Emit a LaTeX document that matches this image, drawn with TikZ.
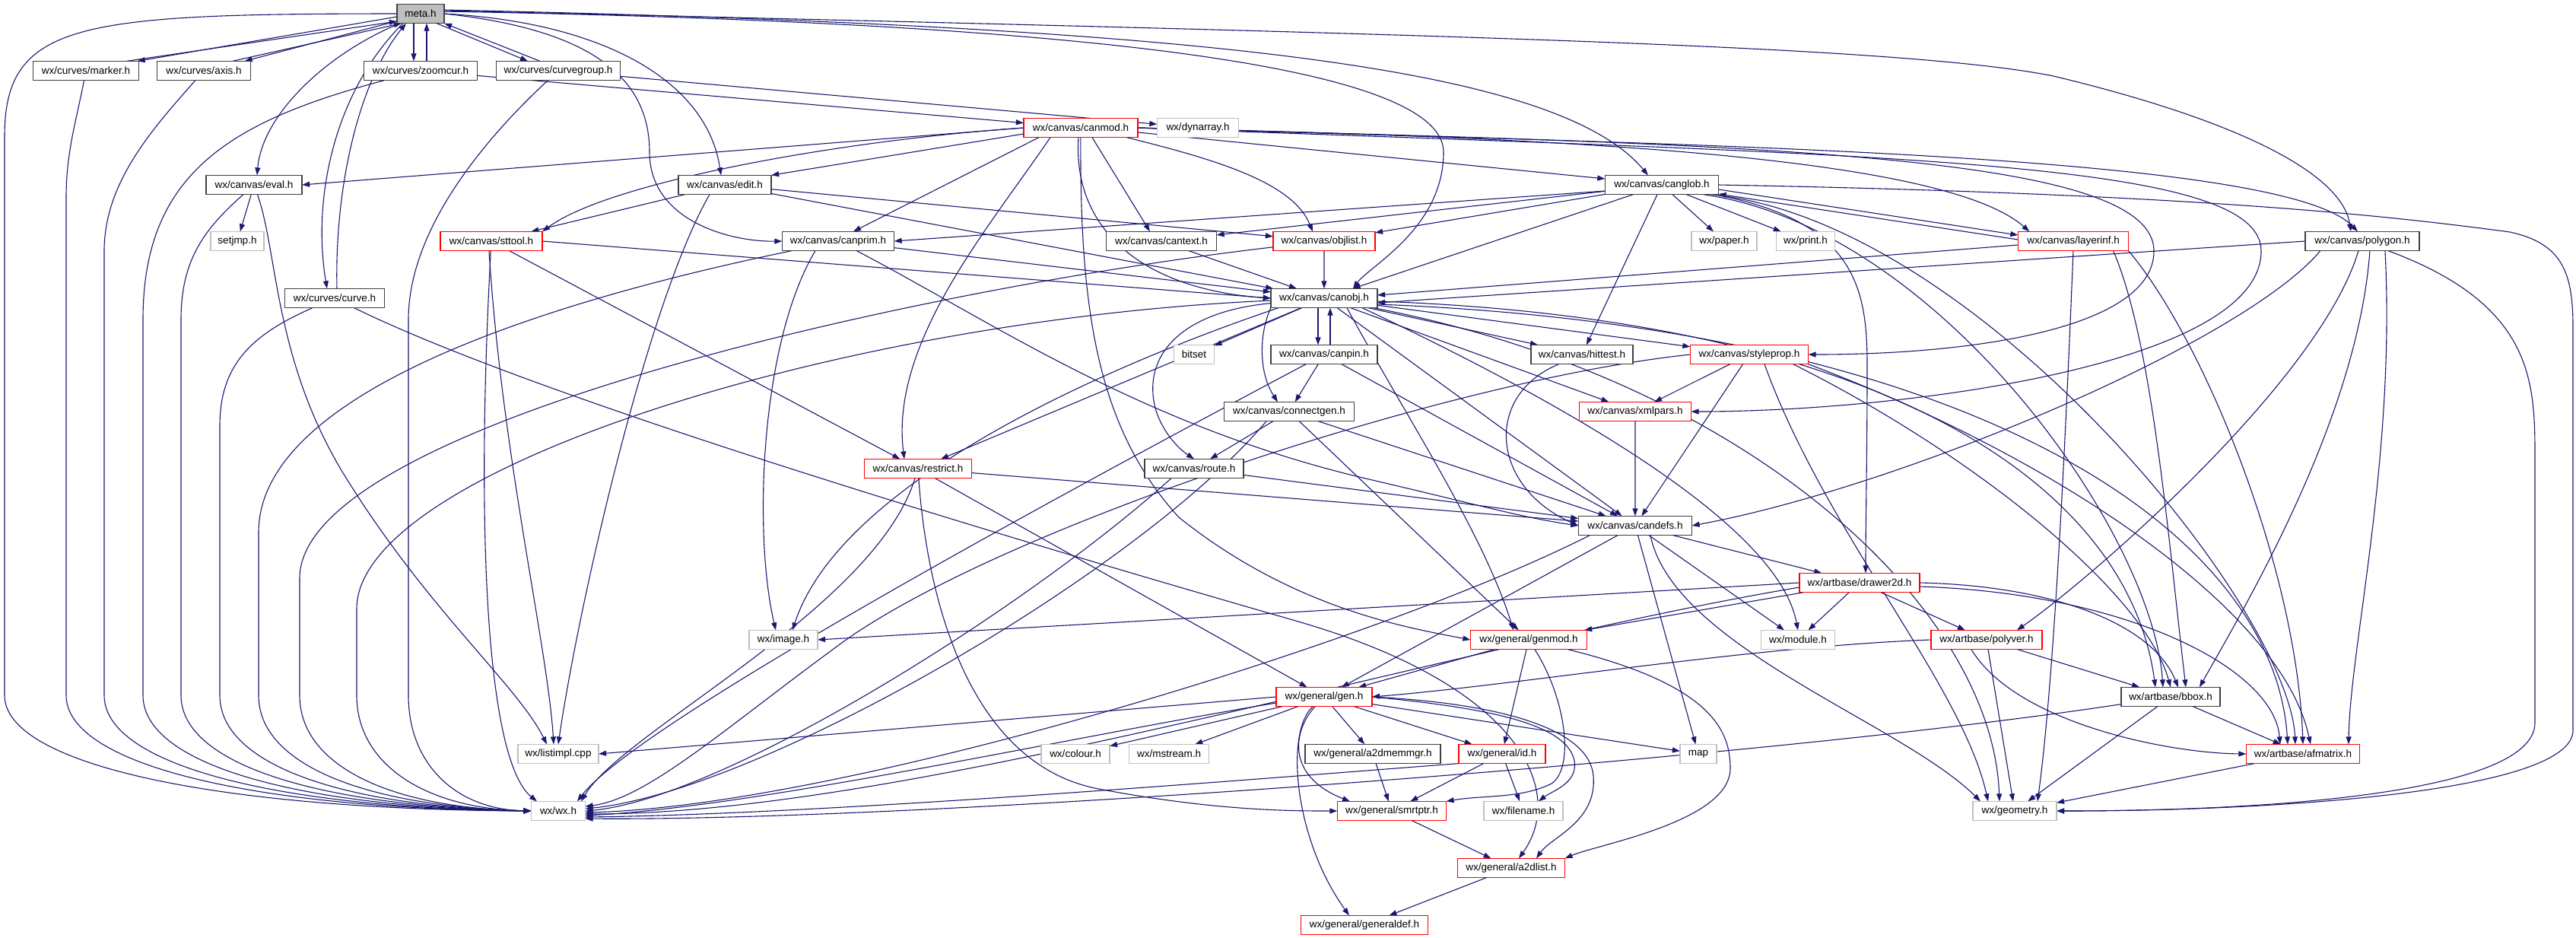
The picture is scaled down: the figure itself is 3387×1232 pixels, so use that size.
\documentclass[tikz,border=0pt]{standalone}
\usepackage{fontspec}
\setmainfont{Liberation Sans}
\usetikzlibrary{arrows.meta, backgrounds, calc}

\definecolor{edgeblue}{HTML}{191970}
\definecolor{docgray}{HTML}{404040}
\definecolor{undocgray}{HTML}{BFBFBF}

\begin{document}
\begin{tikzpicture}[
            > = {Triangle[length=2pt,width=1.4pt]}, % arrow head style
            x = 1pt, y = -1pt, % pixel grid, y goes down
            scale = 0.2,
            every edge/.style = {draw = edgeblue, line width = 0.22pt}, % connector style
            semithick
        ]

        \tikzstyle{filebox}=[
        rectangle,
        transform shape,
        fill = white,
        inner sep = 0pt,
        minimum height = 25pt,
        font = \fontsize{13.5}{16}\selectfont
        ]
        \tikzstyle{docnode}=[filebox, draw = docgray, line width = 0.34pt]
        \tikzstyle{truncnode}=[filebox, draw = red, line width = 0.27pt]
        \tikzstyle{extnode}=[filebox, draw = undocgray, line width = 0.27pt]
        \tikzstyle{inc}=[->, draw = edgeblue, line width = 0.22pt]

        \useasboundingbox (0,0) rectangle (3387,1232);

        % rows of the include graph
        \node[docnode, fill = undocgray, minimum width = 62pt] (meta) at (553,18) {meta.h};

        \node[docnode, minimum width = 139pt] (marker) at (113,93) {wx/curves/marker.h};
        \node[docnode, minimum width = 123pt] (axis) at (268,93) {wx/curves/axis.h};
        \node[docnode, minimum width = 149pt] (zoomcur) at (553,93) {wx/curves/zoomcur.h};
        \node[docnode, minimum width = 163pt] (curvegroup) at (734,93) {wx/curves/curvegroup.h};

        \node[truncnode, minimum width = 150pt] (canmod) at (1421,168) {wx/canvas/canmod.h};
        \node[extnode, minimum width = 107pt] (dynarray) at (1575,168) {wx/dynarray.h};

        \node[docnode, minimum width = 126pt] (eval) at (334,243) {wx/canvas/eval.h};
        \node[docnode, minimum width = 122pt] (edit) at (953,243) {wx/canvas/edit.h};
        \node[docnode, minimum width = 149pt] (canglob) at (2185,243) {wx/canvas/canglob.h};

        \node[extnode, minimum width = 70pt] (setjmp) at (312,317) {setjmp.h};
        \node[truncnode, minimum width = 134pt] (sttool) at (646,317) {wx/canvas/sttool.h};
        \node[docnode, minimum width = 147pt] (canprim) at (1102,317) {wx/canvas/canprim.h};
        \node[docnode, minimum width = 145pt] (cantext) at (1527,317) {wx/canvas/cantext.h};
        \node[truncnode, minimum width = 134pt] (objlist) at (1741,317) {wx/canvas/objlist.h};
        \node[extnode, minimum width = 86pt] (paper) at (2267,317) {wx/paper.h};
        \node[extnode, minimum width = 77pt] (print) at (2374,317) {wx/print.h};
        \node[truncnode, minimum width = 145pt] (layerinf) at (2726,317) {wx/canvas/layerinf.h};
        \node[docnode, minimum width = 150pt] (polygon) at (3106,317) {wx/canvas/polygon.h};

        \node[docnode, minimum width = 131pt] (curve) at (440,392) {wx/curves/curve.h};
        \node[docnode, minimum width = 140pt] (canobj) at (1741,392) {wx/canvas/canobj.h};

        \node[extnode, minimum width = 53pt] (bitset) at (1570,466) {bitset};
        \node[docnode, minimum width = 140pt] (canpin) at (1741,466) {wx/canvas/canpin.h};
        \node[docnode, minimum width = 134pt] (hittest) at (2080,466) {wx/canvas/hittest.h};
        \node[truncnode, minimum width = 155pt] (styleprop) at (2300,466) {wx/canvas/styleprop.h};

        \node[docnode, minimum width = 171pt] (connectgen) at (1695,541) {wx/canvas/connectgen.h};
        \node[truncnode, minimum width = 147pt] (xmlpars) at (2150,541) {wx/canvas/xmlpars.h};

        \node[truncnode, minimum width = 141pt] (restrict) at (1207,616) {wx/canvas/restrict.h};
        \node[docnode, minimum width = 130pt] (route) at (1570,616) {wx/canvas/route.h};

        \node[docnode, minimum width = 149pt] (candefs) at (2150,691) {wx/canvas/candefs.h};

        \node[truncnode, minimum width = 158pt] (drawer2d) at (2445,766) {wx/artbase/drawer2d.h};

        \node[extnode, minimum width = 90pt] (image) at (1030,841) {wx/image.h};
        \node[truncnode, minimum width = 153pt] (genmod) at (2010,841) {wx/general/genmod.h};
        \node[extnode, minimum width = 97pt] (module) at (2364,841) {wx/module.h};
        \node[truncnode, minimum width = 146pt] (polyver) at (2612,841) {wx/artbase/polyver.h};

        \node[truncnode, minimum width = 126pt] (gen) at (1741,916) {wx/general/gen.h};
        \node[docnode, minimum width = 130pt] (bbox) at (2854,916) {wx/artbase/bbox.h};

        \node[extnode, minimum width = 106pt] (listimpl) at (734,991) {wx/listimpl.cpp};
        \node[extnode, minimum width = 90pt] (colour) at (1414,991) {wx/colour.h};
        \node[extnode, minimum width = 105pt] (mstream) at (1537,991) {wx/mstream.h};
        \node[docnode, minimum width = 178pt] (a2dmemmgr) at (1805,991) {wx/general/a2dmemmgr.h};
        \node[truncnode, minimum width = 114pt] (id) at (1975,991) {wx/general/id.h};
        \node[extnode, minimum width = 48pt] (map) at (2233,991) {map};
        \node[truncnode, minimum width = 149pt] (afmatrix) at (3028,991) {wx/artbase/afmatrix.h};

        \node[extnode, minimum width = 71pt] (wx) at (734,1066) {wx/wx.h};
        \node[truncnode, minimum width = 143pt] (smrtptr) at (1830,1066) {wx/general/smrtptr.h};
        \node[extnode, minimum width = 104pt] (filename) at (2003,1066) {wx/filename.h};
        \node[extnode, minimum width = 110pt] (geometry) at (2649,1066) {wx/geometry.h};

        \node[truncnode, minimum width = 141pt] (a2dlist) at (1987,1141) {wx/general/a2dlist.h};
        \node[truncnode, minimum width = 167pt] (generaldef) at (1794,1216) {wx/general/generaldef.h};

        \begin{pgfonlayer}{background}
        % meta.h
        \draw[inc] (meta.west) .. controls (100,18) and (6,30) .. (6,180) -- (6,914) .. controls (6,1005) and (283,1064) .. (wx.west);
        \path[->] ($(meta.west)+(0,4)$) edge ($(marker.north east)+(-2,0)$);
        \path[->] ($(marker.north east)+(-16,0)$) edge ($(meta.west)+(0,10)$);
        \path[->] ($(meta.south west)+(0,-3)$) edge ($(axis.north east)+(-8,0)$);
        \path[->] ($(axis.north east)+(-24,0)$) edge ($(meta.south west)+(6,0)$);
        \path[->] ($(meta.south east)+(-10,0)$) edge ($(curvegroup.north)+(-40,0)$);
        \path[->] ($(curvegroup.north)+(-24,0)$) edge (meta.south east);
        \path[->] ($(meta.south)+(-9,0)$) edge ($(zoomcur.north)+(-9,0)$);
        \path[->] ($(zoomcur.north)+(8,0)$) edge ($(meta.south)+(8,0)$);
        \draw[inc] ($(meta.south west)+(4,0)$) .. controls (430,70) and (345,150) .. ($(eval.north)+(4,0)$);
        \draw[inc] ($(meta.south west)+(8,0)$) .. controls (440,120) and (410,260) .. ($(curve.north)+(-10,0)$);
        \draw[inc] ($(curve.north)+(3,0)$) .. controls (440,250) and (470,110) .. ($(meta.south west)+(12,0)$);
        \draw[inc] (meta.east) .. controls (800,30) and (930,110) .. ($(edit.north)+(-5,0)$);
        \draw[inc] (meta.east) .. controls (790,40) and (854,110) .. (854,200) .. controls (854,290) and (960,318) .. (canprim.west);
        \draw[inc] ($(meta.east)+(0,-3)$) .. controls (1450,30) and (1898,90) .. (1898,200) .. controls (1898,300) and (1800,350) .. ($(canobj.north)+(38,0)$);
        \draw[inc] ($(meta.east)+(0,-5)$) .. controls (1600,35) and (2050,90) .. ($(canglob.north)+(-18,0)$);
        \draw[inc] ($(meta.east)+(0,-4)$) .. controls (1900,45) and (2500,60) .. (2700,100) .. controls (2950,160) and (3080,230) .. ($(polygon.north)+(-15,0)$);

        % left lanes into wx/wx.h
        \draw[inc] (marker) .. controls (100,160) and (87,200) .. (87,260) -- (87,914) .. controls (87,1005) and (332,1063) .. (wx.west);
        \draw[inc] (axis) .. controls (200,170) and (137,240) .. (137,330) -- (137,914) .. controls (137,1005) and (362,1062) .. (wx.west);
        \draw[inc] (zoomcur) .. controls (300,160) and (188,230) .. (188,420) -- (188,914) .. controls (188,1005) and (392,1061) .. (wx.west);
        \draw[inc] (eval) .. controls (270,300) and (238,340) .. (238,420) -- (238,914) .. controls (238,1005) and (420,1060) .. (wx.west);
        \draw[inc] (curve) .. controls (330,440) and (289,480) .. (289,560) -- (289,914) .. controls (289,1005) and (450,1060) .. (wx.west);
        \draw[inc] (canprim) .. controls (700,400) and (340,520) .. (340,700) -- (340,914) .. controls (340,1005) and (480,1060) .. (wx.west);
        \draw[inc] (objlist) .. controls (1200,380) and (394,560) .. (394,760) -- (394,914) .. controls (394,1005) and (510,1062) .. (wx.west);
        \draw[inc] (canobj) .. controls (1100,420) and (469,620) .. (469,800) -- (469,914) .. controls (469,1005) and (560,1063) .. (wx.west);
        \draw[inc] (curvegroup) .. controls (640,180) and (537,300) .. (537,420) -- (537,914) .. controls (537,1005) and (600,1064) .. (wx.west);

        % curves
        \path[->] (zoomcur) edge (canmod);
        \path[->] (curvegroup) edge (dynarray);
        \draw[inc] (curve) .. controls (700,520) and (1300,700) .. (1700,815) .. controls (2000,900) and (2060,1040) .. ($(a2dlist.north)+(10,0)$);
        \path[->] (eval) edge (setjmp);
        \draw[inc] (eval) .. controls (365,330) and (360,470) .. (450,620) .. controls (560,800) and (680,900) .. ($(listimpl.north)+(-15,0)$);

        % canvas
        \path[->] (edit) edge (sttool) edge (objlist) edge (canobj);
        \draw[inc] ($(edit.south)+(-20,0)$) .. controls (850,400) and (760,800) .. (listimpl.north);
        \path[->] (sttool) edge (restrict);
        \draw[inc] ($(sttool.south)+(-3,0)$) .. controls (660,600) and (720,850) .. ($(listimpl.north)+(-6,0)$);
        \path[->] (sttool.east) edge (canobj.west);
        \draw[inc] (sttool) .. controls (625,700) and (640,1000) .. ($(wx.north)+(-28,0)$);

        \path[->] (canmod.west) edge (eval.east);
        \path[->] ($(canmod.west)+(0,8)$) edge (edit.north east);
        \path[->] ($(canmod.south)+(-55,0)$) edge ($(canprim.north)+(20,0)$);
        \path[->] ($(canmod.south)+(15,0)$) edge ($(cantext.north)+(-15,0)$);
        \path[->] ($(canmod.east)+(0,6)$) edge ($(canglob.west)+(0,-8)$);
        \draw[inc] (canmod.west) .. controls (1100,185) and (800,240) .. (sttool.north east);
        \draw[inc] ($(canmod.south east)+(-15,0)$) .. controls (1600,210) and (1700,240) .. ($(objlist.north)+(-15,0)$);
        \draw[inc] ($(canmod.south)+(-3,0)$) .. controls (1410,300) and (1500,380) .. (canobj.west);
        \draw[inc] ($(canmod.south)+(-40,0)$) .. controls (1300,300) and (1170,450) .. ($(restrict.north)+(-18,0)$);
        \draw[inc] (canmod.east) .. controls (2000,180) and (2550,200) .. ($(layerinf.north west)+(15,0)$);
        \draw[inc] (canmod) .. controls (1420,400) and (1440,560) .. (1550,680) .. controls (1700,800) and (1850,825) .. (genmod.west);
        \draw[inc] (canmod.east) .. controls (2200,190) and (3000,200) .. ($(polygon.north)+(-6,0)$);
        \draw[inc] (canmod.east) .. controls (2300,190) and (2832,200) .. (2832,330) .. controls (2832,430) and (2600,466) .. (styleprop.east);
        \draw[inc] (canmod.east) .. controls (2500,205) and (2973,210) .. (2973,330) .. controls (2973,480) and (2500,541) .. (xmlpars.east);

        \path[->] ($(canglob.west)+(0,8)$) edge (canprim.east);
        \path[->] (canglob) edge (cantext) edge (objlist) edge (canobj) edge (hittest) edge (paper) edge (print);
        \path[->] ($(canglob.east)+(0,6)$) edge ($(layerinf.west)+(0,-8)$);
        \path[->] ($(layerinf.west)+(0,-2)$) edge ($(canglob.east)+(0,12)$);
        \draw[inc] ($(canglob.south east)+(-20,0)$) .. controls (2550,300) and (2830,700) .. ($(bbox.north)+(-10,0)$);
        \draw[inc] ($(canglob.south east)+(-10,0)$) .. controls (2600,290) and (3010,800) .. ($(afmatrix.north)+(-10,0)$);
        \draw[inc] (canglob) .. controls (2440,290) and (2455,380) .. (2455,480) .. controls (2455,600) and (2453,690) .. ($(drawer2d.north)+(8,0)$);
        \draw[inc] (canglob.east) .. controls (2900,255) and (3150,285) .. (3300,305) .. controls (3370,320) and (3383,360) .. (3383,430) -- (3383,960) .. controls (3383,1040) and (3000,1066) .. (geometry.east);

        \path[->] ($(layerinf.west)+(0,5)$) edge ($(canobj.east)+(0,-4)$);
        \draw[inc] (layerinf.south) .. controls (2715,600) and (2700,900) .. ($(geometry.north)+(30,0)$);
        \draw[inc] ($(layerinf.south east)+(-20,0)$) .. controls (2830,450) and (2850,700) .. ($(bbox.north)+(20,0)$);
        \draw[inc] (layerinf.south east) .. controls (2900,450) and (3020,750) .. (afmatrix.north);

        \path[->] (polygon.west) edge ($(canobj.east)+(0,6)$);
        \draw[inc] ($(polygon.south west)+(20,0)$) .. controls (2950,450) and (2500,640) .. (candefs.east);
        \draw[inc] ($(polygon.south)+(-5,0)$) .. controls (3050,500) and (2750,760) .. ($(polyver.north)+(40,0)$);
        \draw[inc] ($(polygon.south)+(10,0)$) .. controls (3100,550) and (2950,800) .. ($(bbox.north)+(38,0)$);
        \draw[inc] ($(polygon.south)+(30,0)$) .. controls (3150,600) and (3090,850) .. ($(afmatrix.north)+(60,0)$);
        \draw[inc] (polygon) .. controls (3330,400) and (3333,500) .. (3333,600) -- (3333,950) .. controls (3333,1040) and (3000,1066) .. (geometry.east);

        \path[->] (canprim) edge (canobj);
        \draw[inc] ($(canprim.south)+(-30,0)$) .. controls (1000,450) and (990,700) .. ($(image.north)+(-10,0)$);
        \draw[inc] (canprim) .. controls (1300,420) and (1500,560) .. (1800,630) .. controls (1950,665) and (2000,680) .. (candefs.west);
        \path[->] (cantext) edge (canobj);
        \path[->] (objlist) edge (canobj);

        \path[->] (canobj) edge (bitset) edge (hittest) edge (styleprop) edge (xmlpars) edge (restrict) edge (candefs);
        \draw[inc] ($(canobj.south west)+(10,0)$) .. controls (1400,500) and (1100,650) .. ($(image.north)+(12,0)$);
        \draw[inc] ($(canobj.south)+(30,0)$) .. controls (1850,550) and (1950,700) .. ($(genmod.north)+(-20,0)$);
        \draw[inc] ($(canobj.east)+(0,4)$) .. controls (2500,420) and (2800,650) .. ($(bbox.north)+(-20,0)$);
        \draw[inc] ($(canobj.east)+(0,8)$) .. controls (2600,430) and (2990,700) .. ($(afmatrix.north)+(-20,0)$);
        \draw[inc] ($(canobj.south east)+(-5,0)$) .. controls (2300,500) and (2620,800) .. ($(geometry.north)+(-20,0)$);
        \draw[inc] ($(canobj.south east)+(-20,0)$) .. controls (2100,550) and (2340,700) .. (module.north);
        \draw[inc] (canobj.south west) .. controls (1655,440) and (1655,490) .. ($(connectgen.north)+(-15,0)$);
        \draw[inc] (canobj) .. controls (1550,410) and (1500,470) .. (1520,540) .. controls (1530,570) and (1550,590) .. (route.north);
        \path[->] ($(canobj.south)+(-8,0)$) edge ($(canpin.north)+(-8,0)$);
        \path[->] ($(canpin.north)+(8,0)$) edge ($(canobj.south)+(8,0)$);
        \path[->] (canpin) edge (connectgen) edge (candefs);
        \draw[inc] (canpin) .. controls (1300,700) and (830,960) .. ($(wx.north)+(25,0)$);
        \draw[inc] (hittest) .. controls (1950,520) and (1960,640) .. (candefs.west);

        \path[->] (styleprop) edge (xmlpars) edge (candefs);
        \draw[inc] ($(styleprop.south east)+(-20,0)$) .. controls (2600,600) and (2820,780) .. (bbox.north);
        \draw[inc] (styleprop.south east) .. controls (2700,600) and (3000,800) .. ($(afmatrix.north)+(10,0)$);
        \draw[inc] ($(styleprop.south)+(20,0)$) .. controls (2400,700) and (2580,900) .. ($(geometry.north)+(-35,0)$);
        \draw[inc] (styleprop.west) .. controls (1900,500) and (1300,700) .. (1100,850) .. controls (950,960) and (850,1050) .. ($(wx.east)+(0,-6)$);
        \path[->] (xmlpars) edge (candefs);
        \path[->] (connectgen) edge (route) edge (genmod) edge (candefs);
        \draw[inc] ($(connectgen.south)+(-30,0)$) .. controls (1500,750) and (1000,1040) .. ($(wx.east)+(0,-3)$);
        \path[->] (restrict) edge (candefs) edge (gen);
        \draw[inc] (restrict) .. controls (1150,800) and (820,960) .. ($(wx.north)+(30,0)$);
        \draw[inc] (restrict) .. controls (1220,800) and (1280,1010) .. (1450,1038) .. controls (1600,1066) and (1700,1066) .. (smrtptr.west);
        \path[->] (route) edge (candefs);
        \draw[inc] ($(route.south)+(-30,0)$) .. controls (1350,800) and (950,1050) .. (wx.east);

        % artbase and general
        \path[->] (candefs) edge (drawer2d) edge (gen) edge (module) edge (map);
        \draw[inc] ($(candefs.south)+(20,0)$) .. controls (2200,850) and (2500,950) .. ($(geometry.north)+(-45,0)$);
        \draw[inc] ($(candefs.south west)+(15,0)$) .. controls (1800,850) and (1100,1060) .. ($(wx.east)+(0,2)$);
        \path[->] (drawer2d.west) edge (image.east);
        \path[->] (drawer2d) edge (genmod) edge (module) edge (polyver);
        \draw[inc] (drawer2d.east) .. controls (2700,770) and (2830,820) .. ($(bbox.north)+(10,0)$);
        \draw[inc] ($(drawer2d.east)+(0,5)$) .. controls (2800,780) and (2990,880) .. ($(afmatrix.north)+(-30,0)$);
        \draw[inc] ($(drawer2d.west)+(0,6)$) .. controls (1900,850) and (1200,1070) .. ($(wx.east)+(0,4)$);
        \path[->] (genmod) edge (gen) edge (id);
        \draw[inc] (genmod) .. controls (2060,920) and (2070,1010) .. (2040,1030) .. controls (2000,1050) and (1950,1045) .. (smrtptr.north east);
        \draw[inc] (genmod) .. controls (2250,900) and (2275,960) .. (2275,1010) .. controls (2275,1080) and (2100,1110) .. (a2dlist.north east);
        \draw[inc] (polyver.west) .. controls (2300,850) and (2000,900) .. (gen.east);
        \path[->] (polyver) edge (bbox) edge (geometry);
        \draw[inc] ($(polyver.south)+(-20,0)$) .. controls (2650,950) and (2850,990) .. (afmatrix.west);

        \path[->] (gen.west) edge (listimpl.east);
        \draw[inc] ($(gen.west)+(0,8)$) .. controls (1400,970) and (1000,1060) .. ($(wx.east)+(0,6)$);
        \path[->] (gen) edge (colour) edge (mstream) edge (a2dmemmgr) edge (id) edge (map);
        \draw[inc] (gen) .. controls (1700,960) and (1690,1020) .. ($(smrtptr.north)+(-55,0)$);
        \draw[inc] (gen.east) .. controls (1950,930) and (2060,950) .. (2070,1000) .. controls (2075,1030) and (2040,1040) .. ($(filename.north)+(20,0)$);
        \draw[inc] (gen.east) .. controls (1980,925) and (2090,960) .. (2095,1020) .. controls (2100,1080) and (2040,1100) .. ($(a2dlist.north)+(33,0)$);
        \draw[inc] (gen) .. controls (1690,960) and (1700,1100) .. ($(generaldef.north)+(-20,0)$);

        \path[->] (id) edge (smrtptr) edge (filename);
        \draw[inc] (id.south west) .. controls (1700,1020) and (1100,1070) .. ($(wx.east)+(0,8)$);
        \path[->] (a2dmemmgr) edge (smrtptr);
        \path[->] (smrtptr) edge (a2dlist);
        \path[->] (a2dlist) edge (generaldef);
        \path[->] (bbox) edge (afmatrix) edge (geometry);
        \draw[inc] ($(bbox.south west)+(0,-3)$) .. controls (2300,1000) and (1200,1080) .. ($(wx.east)+(0,10)$);
        \path[->] (afmatrix) edge (geometry);
        \end{pgfonlayer}
    \end{tikzpicture}
\end{document}
